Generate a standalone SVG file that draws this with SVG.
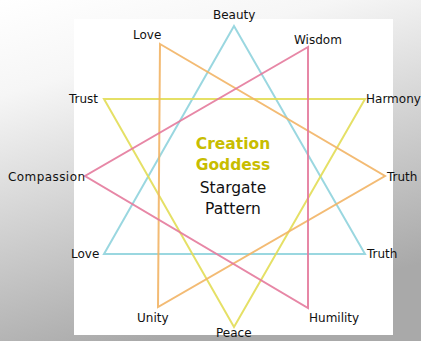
<svg xmlns="http://www.w3.org/2000/svg" width="421" height="341" viewBox="0 0 421 341">
<defs>
<linearGradient id="bg" x1="0" y1="0" x2="0.35" y2="1">
<stop offset="0" stop-color="#ffffff"/>
<stop offset="0.25" stop-color="#f6f6f6"/>
<stop offset="1" stop-color="#a9a9a9"/>
</linearGradient>
<style>
.tri{fill:none;stroke-width:2;stroke-linejoin:miter;stroke-opacity:0.9}
.lbl{font-family:"DejaVu Sans",sans-serif;font-size:12px;fill:#111}
.title{font-family:"DejaVu Sans",sans-serif;font-size:15.5px;text-anchor:middle}
</style>
</defs>
<rect width="421" height="341" fill="url(#bg)"/>
<rect x="74" y="19" width="319" height="316" fill="#ffffff"/>
<g id="connectors">
<polygon id="tri-blue" class="tri" stroke="#8fd3dd" points="234,26 104,254 365,254"/>
<polygon id="tri-yellow" class="tri" stroke="#e2dd55" points="104,99 365,99 234,327"/>
<polygon id="tri-orange" class="tri" stroke="#f2b465" points="160,44 385,176 158,307"/>
<polygon id="tri-pink" class="tri" stroke="#e47a9c" points="308,47 85,176 308,308"/>
</g>
<g id="node-beauty"><text class="lbl" x="213" y="19">Beauty</text></g>
<g id="node-love-top"><text class="lbl" x="133" y="39">Love</text></g>
<g id="node-wisdom"><text class="lbl" x="294" y="44">Wisdom</text></g>
<g id="node-trust"><text class="lbl" x="69" y="103">Trust</text></g>
<g id="node-harmony"><text class="lbl" x="366" y="103">Harmony</text></g>
<g id="node-compassion"><text class="lbl" x="8" y="181" textLength="77">Compassion</text></g>
<g id="node-truth-right"><text class="lbl" x="387" y="181">Truth</text></g>
<g id="node-love-bottom"><text class="lbl" x="71" y="258">Love</text></g>
<g id="node-truth-bottom"><text class="lbl" x="367" y="258">Truth</text></g>
<g id="node-unity"><text class="lbl" x="137" y="322">Unity</text></g>
<g id="node-humility"><text class="lbl" x="309" y="322">Humility</text></g>
<g id="node-peace"><text class="lbl" x="216" y="337">Peace</text></g>
<g id="node-center">
<text class="title" x="233" y="149" font-weight="bold" fill="#c8bd00">Creation</text>
<text class="title" x="233" y="170" font-weight="bold" fill="#c8bd00">Goddess</text>
<text class="title" x="233" y="193" fill="#111" font-size="16px">Stargate</text>
<text class="title" x="233" y="214" fill="#111" font-size="16px">Pattern</text>
</g>
</svg>
